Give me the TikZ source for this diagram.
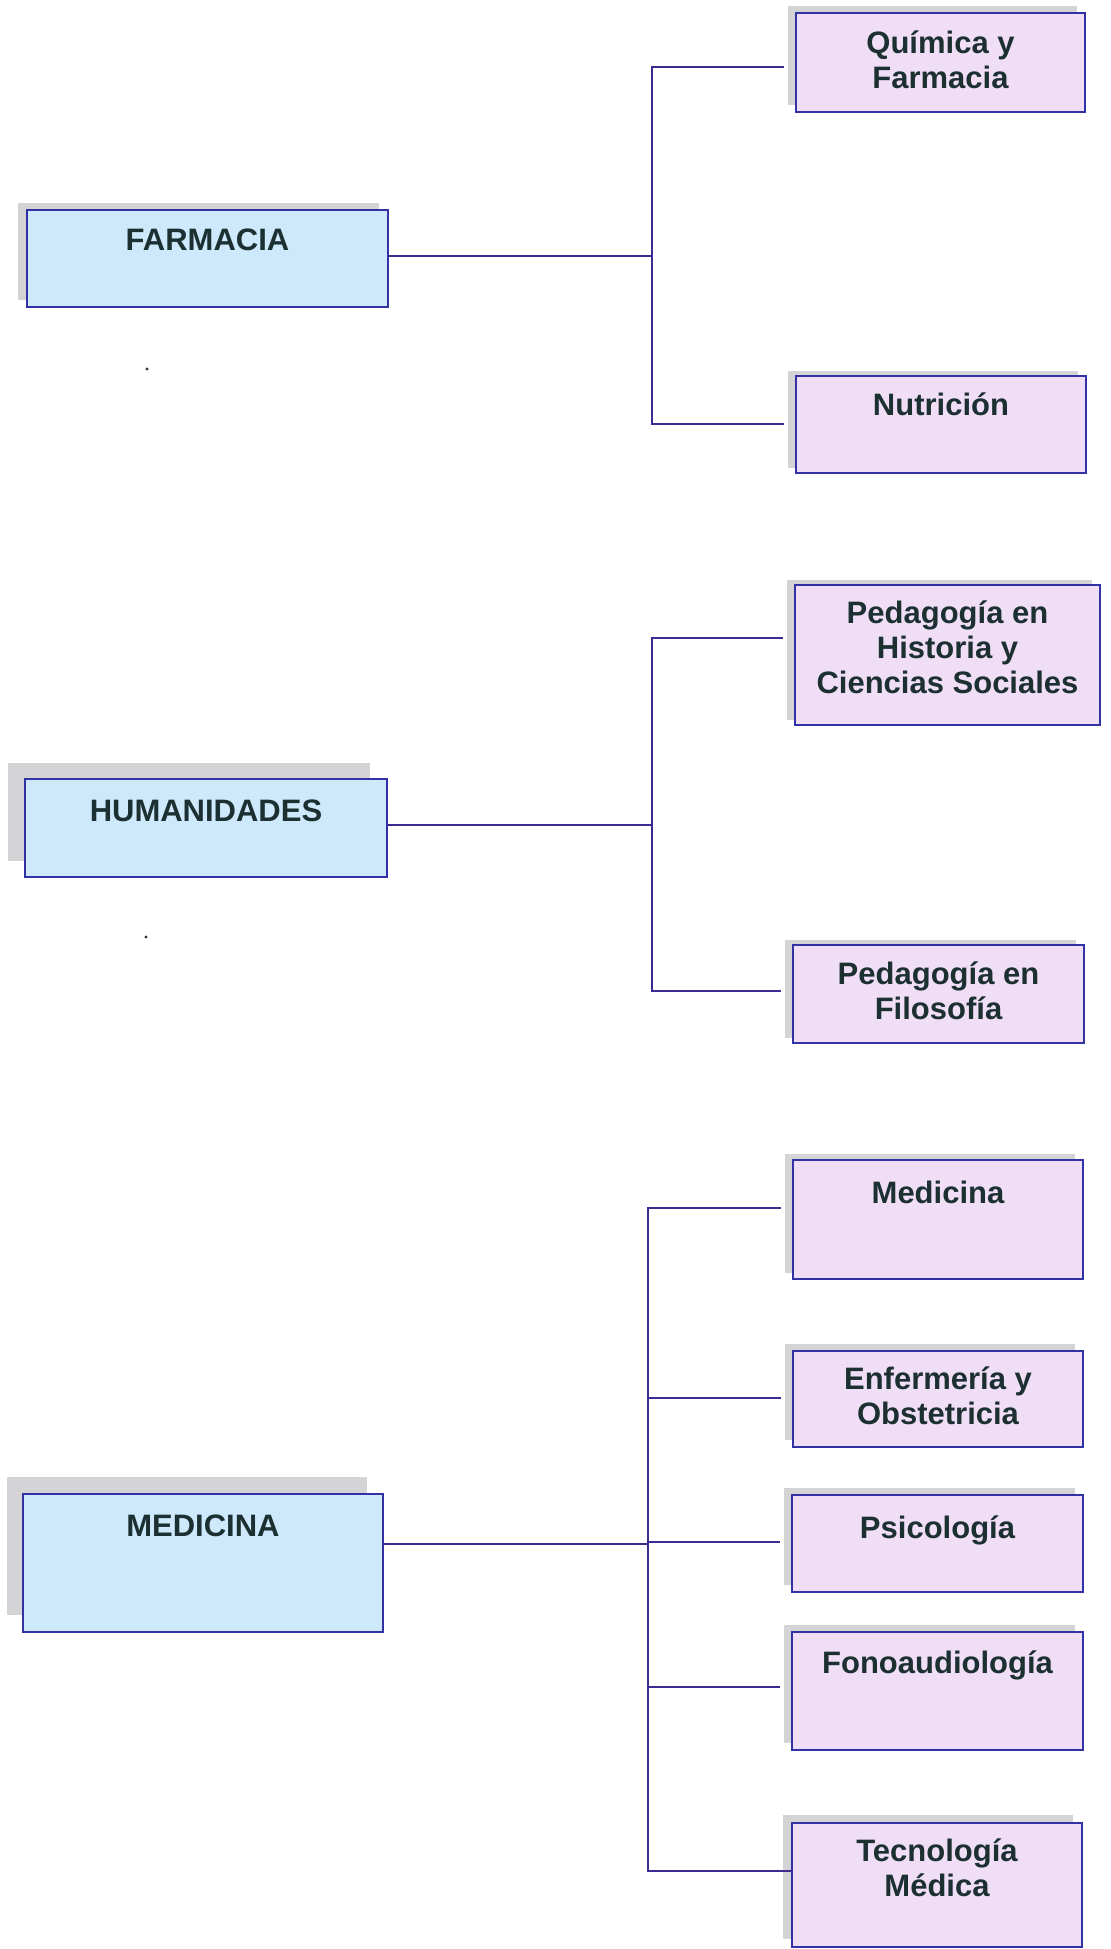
\documentclass[tikz,border=0pt]{standalone}
\usepackage{fontspec}
\setmainfont{Liberation Sans}
\pgfdeclarelayer{background}
\pgfsetlayers{background,main}
\definecolor{parentfill}{RGB}{206,233,252}
\definecolor{childfill}{RGB}{240,222,246}
\definecolor{boxline}{RGB}{50,50,165}
\definecolor{connline}{RGB}{62,42,145}
\definecolor{txt}{RGB}{28,48,50}
\definecolor{shadowc}{RGB}{212,212,214}
\tikzset{
  box/.style={draw=boxline, line width=2.8pt, anchor=north west, inner sep=0pt, outer sep=0pt},
  parentbox/.style={box, fill=parentfill},
  childbox/.style={box, fill=childfill},
  lbl/.style={anchor=north, inner sep=0pt, align=center, text=txt, font=\fontsize{31}{35}\selectfont\bfseries},
  conn/.style={draw=connline, line width=2.2pt, line join=miter},
}
\newcommand{\mybox}[6]{% name, style, left, top, right, bottom
  \node[#2, minimum width=#5-#3, minimum height=#6-#4] (#1) at (#3,#4) {};}
\newcommand{\myshadow}[3]{% name, dx, dy
  \fill[shadowc] ([shift={(#2,#3)}]#1.north west) rectangle ([shift={(#2,#3)}]#1.south east);}
\begin{document}
\begin{tikzpicture}[x=1pt, y=-1pt]
\useasboundingbox (0,0) rectangle (1111,1949);

% boxes
\mybox{farm}{parentbox}{27}{210}{388}{307}
\mybox{hum}{parentbox}{25}{779}{387}{877}
\mybox{med}{parentbox}{23}{1494}{383}{1632}
\mybox{qf}{childbox}{796}{13}{1085}{112}
\mybox{nut}{childbox}{796}{376}{1086}{473}
\mybox{ph}{childbox}{795}{585}{1100}{725}
\mybox{fil}{childbox}{793}{945}{1084}{1043}
\mybox{mc}{childbox}{793}{1160}{1083}{1279}
\mybox{enf}{childbox}{793}{1351}{1083}{1447}
\mybox{psi}{childbox}{792}{1495}{1083}{1592}
\mybox{fon}{childbox}{792}{1632}{1083}{1750}
\mybox{tec}{childbox}{792}{1823}{1082}{1947}

% background and shadows
\begin{pgfonlayer}{background}
\fill[white] (0,0) rectangle (1111,1949);
\myshadow{farm}{-9}{-7}
\myshadow{hum}{-17}{-16}
\myshadow{med}{-16}{-17}
\myshadow{qf}{-8}{-7}
\myshadow{nut}{-8}{-5}
\myshadow{ph}{-8}{-5}
\myshadow{fil}{-8}{-5}
\myshadow{mc}{-8}{-6}
\myshadow{enf}{-8}{-7}
\myshadow{psi}{-8}{-7}
\myshadow{fon}{-8}{-7}
\myshadow{tec}{-9}{-8}
\end{pgfonlayer}

% texts
\node[lbl] (farm-t) at ([shift={(0,19)}]farm.north) {FARMACIA};
\node[lbl] (hum-t) at ([shift={(0,21)}]hum.north) {HUMANIDADES};
\node[lbl] (med-t) at ([shift={(0,21)}]med.north) {MEDICINA};
\node[lbl] (qf-t) at ([shift={(0,18)}]qf.north) {Química y\\Farmacia};
\node[lbl] (nut-t) at ([shift={(0,17)}]nut.north) {Nutrición};
\node[lbl] (ph-t) at ([shift={(0,16)}]ph.north) {Pedagogía en\\Historia y\\Ciencias Sociales};
\node[lbl] (fil-t) at ([shift={(0,17)}]fil.north) {Pedagogía en\\Filosofía};
\node[lbl] (mc-t) at ([shift={(0,21)}]mc.north) {Medicina};
\node[lbl] (enf-t) at ([shift={(0,16)}]enf.north) {Enfermería y\\Obstetricia};
\node[lbl] (psi-t) at ([shift={(0,21)}]psi.north) {Psicología};
\node[lbl] (fon-t) at ([shift={(0,19)}]fon.north) {Fonoaudiología};
\node[lbl] (tec-t) at ([shift={(0,16)}]tec.north) {Tecnología\\Médica};

% trunks
\coordinate (b1) at (652,0);
\coordinate (b2) at (652,0);
\coordinate (b3) at (648,0);

% connector end points
\coordinate (farm-out) at ([shift={(0,-2.5)}]farm.east);
\coordinate (hum-out) at ([shift={(0,-3)}]hum.east);
\coordinate (med-out) at ([shift={(0,-19)}]med.east);
\coordinate (qf-in) at ([shift={(-12,4.5)}]qf.west);
\coordinate (nut-in) at ([shift={(-12,-0.5)}]nut.west);
\coordinate (ph-in) at ([shift={(-12,-17)}]ph.west);
\coordinate (fil-in) at ([shift={(-12,-3)}]fil.west);
\coordinate (mc-in) at ([shift={(-12,-11.5)}]mc.west);
\coordinate (enf-in) at ([shift={(-12,-1)}]enf.west);
\coordinate (psi-in) at ([shift={(-12,-1.5)}]psi.west);
\coordinate (fon-in) at ([shift={(-12,-4)}]fon.west);
\coordinate (tec-in) at ([shift={(0,-14)}]tec.west);

% connectors
\draw[conn] (qf-in) -- (qf-in -| b1) -- (nut-in -| b1) -- (nut-in);
\draw[conn] (farm-out) -- (farm-out -| b1);
\draw[conn] (ph-in) -- (ph-in -| b2) -- (fil-in -| b2) -- (fil-in);
\draw[conn] (hum-out) -- (hum-out -| b2);
\draw[conn] (mc-in) -- (mc-in -| b3) -- (tec-in -| b3) -- (tec-in);
\draw[conn] (enf-in -| b3) -- (enf-in);
\draw[conn] (psi-in -| b3) -- (psi-in);
\draw[conn] (fon-in -| b3) -- (fon-in);
\draw[conn] (med-out) -- (med-out -| b3);

% stray dots
\fill[black!80] (147,369) circle (1.6) coordinate (dot1);
\fill[black!80] (146,937) circle (1.6) coordinate (dot2);
\end{tikzpicture}
\end{document}
